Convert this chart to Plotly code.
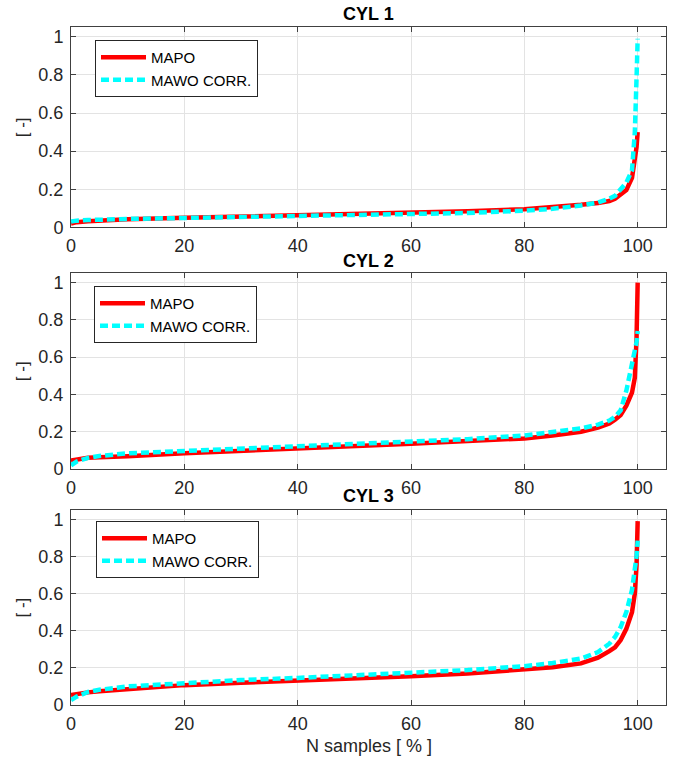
import plotly.graph_objects as go

# ---- data ----
pct = [0, 1, 3, 5, 10, 20, 30, 40, 50, 60, 70, 80, 85, 90, 93, 95, 96, 97, 98, 99, 99.5, 99.8, 100]

cyl1_mapo = [0.020, 0.027, 0.032, 0.036, 0.042, 0.050, 0.056, 0.062, 0.068, 0.075, 0.084, 0.095, 0.105,
             0.118, 0.127, 0.138, 0.150, 0.170, 0.195, 0.260, 0.350, 0.420, 0.500]
cyl1_mawo = [0.030, 0.035, 0.038, 0.040, 0.044, 0.049, 0.053, 0.058, 0.063, 0.068, 0.075, 0.087, 0.097,
             0.115, 0.130, 0.150, 0.165, 0.200, 0.235, 0.300, 0.500, 0.780, 0.990]

cyl2_mapo = [0.045, 0.052, 0.060, 0.063, 0.068, 0.084, 0.096, 0.107, 0.120, 0.136, 0.150, 0.164, 0.180,
             0.200, 0.222, 0.244, 0.265, 0.290, 0.340, 0.410, 0.490, 0.700, 1.000]
cyl2_mawo = [0.020, 0.040, 0.060, 0.070, 0.084, 0.096, 0.110, 0.123, 0.134, 0.145, 0.160, 0.180, 0.196,
             0.218, 0.238, 0.260, 0.280, 0.315, 0.420, 0.550, 0.620, 0.680, 0.740]

cyl3_mapo = [0.054, 0.060, 0.068, 0.074, 0.086, 0.107, 0.120, 0.130, 0.142, 0.155, 0.170, 0.188, 0.203,
             0.224, 0.255, 0.290, 0.310, 0.350, 0.410, 0.500, 0.600, 0.750, 0.990]
cyl3_mawo = [0.027, 0.045, 0.070, 0.082, 0.100, 0.120, 0.134, 0.146, 0.158, 0.170, 0.188, 0.209, 0.226,
             0.250, 0.285, 0.330, 0.366, 0.420, 0.500, 0.620, 0.720, 0.800, 0.885]

titles = ["CYL 1", "CYL 2", "CYL 3"]
series = [(cyl1_mapo, cyl1_mawo), (cyl2_mapo, cyl2_mawo), (cyl3_mapo, cyl3_mawo)]
x_ticks = [0, 20, 40, 60, 80, 100]
y_ticks = [0, 0.2, 0.4, 0.6, 0.8, 1]

W, H = 676, 761
FONT = "Liberation Sans, Arial, sans-serif"

def px(x):
    return x / W

def py(y):
    return 1 - y / H

# pixel layout of each panel (top, bottom) and legend top-left (window pixels)
panels = [(27.3, 227.3), (273.3, 469.0), (510.0, 705.0)]
legend_pos = [(95, 40), (94, 286), (96, 521)]
title_y = [14, 261, 496]
x_left, x_right = 71, 666

fig = go.Figure()
axis_color = "#404040"
grid_color = "#e3e3e3"

for i, (mapo, mawo) in enumerate(series):
    n = "" if i == 0 else str(i + 1)
    leg = "legend" if i == 0 else f"legend{i+1}"
    fig.add_trace(go.Scatter(x=pct, y=mapo, mode="lines", name="MAPO",
                             line=dict(color="#ff0000", width=4.5),
                             xaxis="x" + n, yaxis="y" + n, legend=leg))
    fig.add_trace(go.Scatter(x=pct, y=mawo, mode="lines", name="MAWO CORR.",
                             line=dict(color="#00ffff", width=4.5, dash="8px,4px"),
                             xaxis="x" + n, yaxis="y" + n, legend=leg))
    top, bot = panels[i]
    common = dict(showline=True, linecolor=axis_color, linewidth=1, mirror="ticks",
                  ticks="inside", ticklen=5, tickcolor=axis_color,
                  showgrid=True, gridcolor=grid_color, gridwidth=1, zeroline=False,
                  tickfont=dict(family=FONT, size=18, color="#262626"), automargin=False)
    fig.update_layout(**{
        "xaxis" + n: dict(domain=[px(x_left), px(x_right)], range=[0, 105],
                          tickvals=x_ticks, anchor="y" + n, ticklabelstandoff=2, **common),
        "yaxis" + n: dict(domain=[py(bot), py(top)], range=[0, 1.05],
                          tickvals=y_ticks, ticktext=["0", "0.2", "0.4", "0.6", "0.8", "1"],
                          anchor="x" + n, ticklabelstandoff=3, **common),
    })
    lx, ly = legend_pos[i]
    fig.update_layout(**{leg: dict(x=px(lx), y=py(ly), xanchor="left", yanchor="top",
                                   bgcolor="white", bordercolor="#262626", borderwidth=1,
                                   font=dict(family=FONT, size=15, color="#000000"),
                                   tracegroupgap=0, itemwidth=45)})
    fig.add_annotation(text="<b>" + titles[i] + "</b>", x=px((x_left + x_right) / 2), y=py(title_y[i]),
                       xref="paper", yref="paper", showarrow=False, xanchor="center", yanchor="middle",
                       borderpad=0, font=dict(family=FONT, size=18, color="#000000"))
    fig.add_annotation(text="[ -]", x=px(22), y=py((top + bot) / 2), xref="paper", yref="paper",
                       showarrow=False, textangle=-90, xanchor="center", yanchor="middle",
                       font=dict(family=FONT, size=17, color="#262626"))

fig.add_annotation(text="N samples [ % ]", x=px((x_left + x_right) / 2), y=py(746),
                   xref="paper", yref="paper", showarrow=False, xanchor="center", yanchor="middle",
                   font=dict(family=FONT, size=18, color="#262626"))

fig.update_layout(width=W, height=H, margin=dict(l=0, r=0, t=0, b=0),
                  paper_bgcolor="white", plot_bgcolor="white", showlegend=True)

fig.write_html("out.html", config={"displayModeBar": False},
               post_script="document.body.style.margin='0px';document.body.style.overflow='hidden';")
